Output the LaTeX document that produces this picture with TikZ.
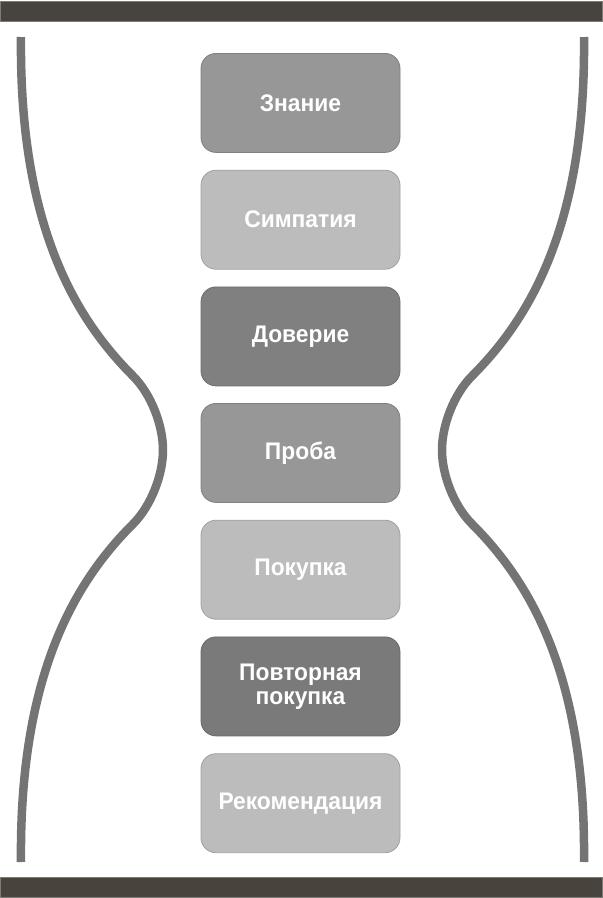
\documentclass[tikz,border=0pt]{standalone}
\usepackage{fontspec}
\setmainfont{Liberation Sans}
\newfontfamily\boxfont[FakeStretch=0.95]{Liberation Sans}
\definecolor{barcol}{HTML}{48433C}
\definecolor{curvecol}{HTML}{747474}
\definecolor{midgray}{HTML}{979797}
\definecolor{lightgray}{HTML}{BDBCBC}
\definecolor{darkgray}{HTML}{808080}
\definecolor{darkergray}{HTML}{7A7A7A}
\begin{document}
\begin{tikzpicture}[x=1pt,y=-1pt,
  stagebox/.style={draw=#1!85!black, fill=#1, line width=0.8pt, rounded corners=15pt,
    minimum width=199pt, minimum height=99pt, inner sep=0pt, anchor=north,
    text=white, font=\boxfont\bfseries\fontsize{24}{24}\selectfont, align=center},
  bar/.style={fill=barcol, draw=barcol!70!white, line width=0.5pt},
  glass/.style={draw=curvecol, line width=8.5pt, line cap=butt}]
\useasboundingbox (0,0) rectangle (603,898);
% bars
\path[bar] (0,1) rectangle (602,21);
\path[bar] (0,877) rectangle (602,897);
% left curve
\draw[glass] (21,37) .. controls (19,228) and (77,320) .. (133,376)
  .. controls (151,394) and (163,425) .. (163,450)
  .. controls (163,475) and (151,506) .. (133,524)
  .. controls (77,580) and (19,672) .. (21,862);
% right curve (mirror)
\draw[glass] (584,37) .. controls (586,228) and (528,320) .. (472,376)
  .. controls (454,394) and (442,425) .. (442,450)
  .. controls (442,475) and (454,506) .. (472,524)
  .. controls (528,580) and (586,672) .. (584,862);
% stages
\node[stagebox=midgray]     (s1) at (300.5,53)    {Знание};
\node[stagebox=lightgray]   (s2) at (300.5,169.8) {Симпатия};
\node[stagebox=darkgray]    (s3) at (300.5,286.5) {Доверие};
\node[stagebox=midgray]     (s4) at (300.5,403)   {Проба};
\node[stagebox=lightgray]   (s5) at (300.5,519.8) {Покупка};
\node[stagebox=darkergray]  (s6) at (300.5,636.5) {Повторная\\покупка};
\node[stagebox=lightgray]   (s7) at (300.5,753.3) {Рекомендация};
\end{tikzpicture}
\end{document}
